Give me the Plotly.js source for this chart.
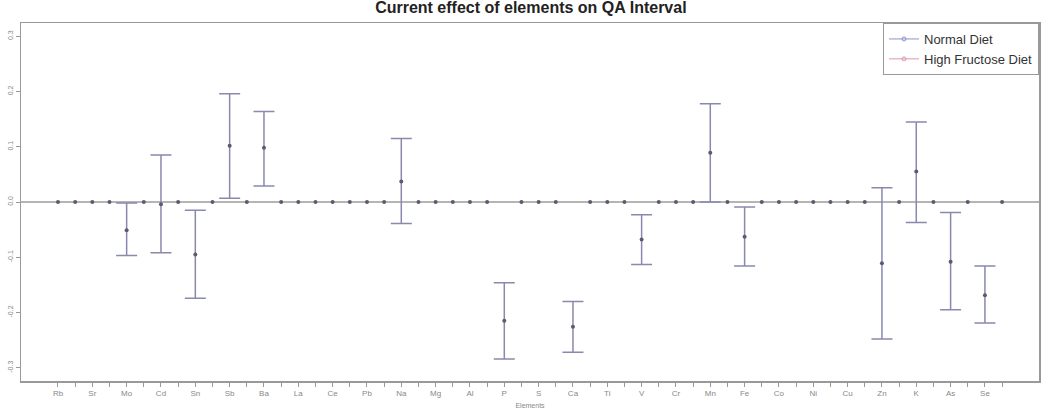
<!DOCTYPE html>
<html>
<head>
<meta charset="utf-8">
<script src="https://cdn.plot.ly/plotly-3.0.1.min.js"></script>
<style>html,body{margin:0;padding:0;background:#fff;}#chart{width:1045px;height:420px;}</style>
</head>
<body>
<div id="chart"></div>
<script>
// Elements (x-axis categories)
var elements = ["Rb","Sr","Mo","Cd","Sn","Sb","Ba","La","Ce","Pb","Na","Mg","Al","P","S","Ca","Ti","V","Cr","Mn","Fe","Co","Ni","Cu","Zn","K","As","Se"];
// Normal Diet: effect estimate and interval bounds (null = no interval drawn)
var normalEffect = [0, 0, -0.051, -0.004, -0.095, 0.102, 0.098, 0, 0, 0, 0.037, 0, 0, -0.215, 0, -0.226, 0, -0.068, 0, 0.089, -0.063, 0, 0, 0, -0.111, 0.055, -0.108, -0.169];
var normalLower  = [null, null, -0.097, -0.092, -0.174, 0.007, 0.029, null, null, null, -0.039, null, null, -0.284, null, -0.272, null, -0.113, null, 0.0, -0.116, null, null, null, -0.248, -0.037, -0.195, -0.219];
var normalUpper  = [null, null, -0.002, 0.085, -0.015, 0.196, 0.164, null, null, null, 0.115, null, null, -0.146, null, -0.180, null, -0.023, null, 0.178, -0.009, null, null, null, 0.026, 0.145, -0.019, -0.116];
// High Fructose Diet: effect estimate
var fructoseEffect = [0,0,0,0,0,0,0,0,0,0,0,0,0,0,0,0,0,0,0,0,0,0,0,0,0,0,0,0];
var yTicks = [-0.3, -0.2, -0.1, 0.0, 0.1, 0.2, 0.3];
var yTickText = ["-0.3", "-0.2", "-0.1", "0.0", "0.1", "0.2", "0.3"];

var xNormal = elements.map(function(_, i){ return 2*i + 1; });
var xFructose = elements.map(function(_, i){ return 2*i + 2; });
var errPlus = normalEffect.map(function(v, i){ return normalUpper[i] === null ? NaN : normalUpper[i] - v; });
var errMinus = normalEffect.map(function(v, i){ return normalLower[i] === null ? NaN : v - normalLower[i]; });

var tickvals = [], ticktext = [];
elements.forEach(function(e, i){ tickvals.push(2*i+1, 2*i+2); ticktext.push(e, ""); });

var markerColor = "#5a5a72";
var traces = [
  {
    x: xNormal, y: normalEffect, type: "scatter", mode: "markers", name: "Normal Diet", showlegend: false,
    marker: {color: markerColor, size: 4},
    error_y: {type: "data", symmetric: false, array: errPlus, arrayminus: errMinus, color: "#8989ae", thickness: 1.5, width: 10.5},
    hoverinfo: "x+y"
  },
  {
    x: xFructose, y: fructoseEffect, type: "scatter", mode: "markers", name: "High Fructose Diet", showlegend: false,
    marker: {color: markerColor, size: 4}
  },
  {
    x: [null], y: [null], type: "scatter", mode: "lines+markers", name: "Normal Diet",
    line: {color: "#9090d0", width: 1}, marker: {color: "#9090d0", size: 4, symbol: "circle-open"}
  },
  {
    x: [null], y: [null], type: "scatter", mode: "lines+markers", name: "High Fructose Diet",
    line: {color: "#d99aa8", width: 1}, marker: {color: "#d99aa8", size: 4, symbol: "circle-open"}
  }
];

var layout = {
  width: 1045, height: 420,
  margin: {l: 21, r: 6, t: 23, b: 39, pad: 0},
  paper_bgcolor: "#ffffff", plot_bgcolor: "#ffffff",
  font: {family: "Liberation Sans, Arial, sans-serif", color: "#444"},
  title: {text: "<b>Current effect of elements on QA Interval</b>", x: 0.508, xanchor: "center", y: 0.995, yanchor: "top",
          font: {size: 16, color: "#222", family: "Liberation Sans, Arial, sans-serif"}},
  showlegend: true,
  legend: {x: 1, xanchor: "right", y: 1, yanchor: "top", bgcolor: "#ffffff", bordercolor: "#999", borderwidth: 1,
           font: {size: 13, color: "#333"}, tracegroupgap: 0, itemwidth: 30},
  xaxis: {
    range: [-1.155, 58.15], tickmode: "array", tickvals: tickvals, ticktext: ticktext,
    ticks: "outside", ticklen: 4, tickcolor: "#999", tickwidth: 1,
    showline: true, mirror: true, linecolor: "#999", linewidth: 1.5,
    showgrid: false, zeroline: false, automargin: false,
    tickfont: {size: 8, color: "#888"},
    title: {text: "Elements", font: {size: 7, color: "#888"}, standoff: 6}
  },
  yaxis: {
    range: [-0.324, 0.324], tickmode: "array", tickvals: yTicks, ticktext: yTickText, tickangle: -90,
    ticks: "outside", ticklen: 4, tickcolor: "#999", tickwidth: 1,
    showline: true, mirror: true, linecolor: "#999", linewidth: 1.5,
    showgrid: false, zeroline: true, zerolinecolor: "#b5b5b5", zerolinewidth: 2, automargin: false,
    tickfont: {size: 7, color: "#888"}
  }
};

Plotly.newPlot("chart", traces, layout, {displayModeBar: false, staticPlot: true});
</script>
</body>
</html>
